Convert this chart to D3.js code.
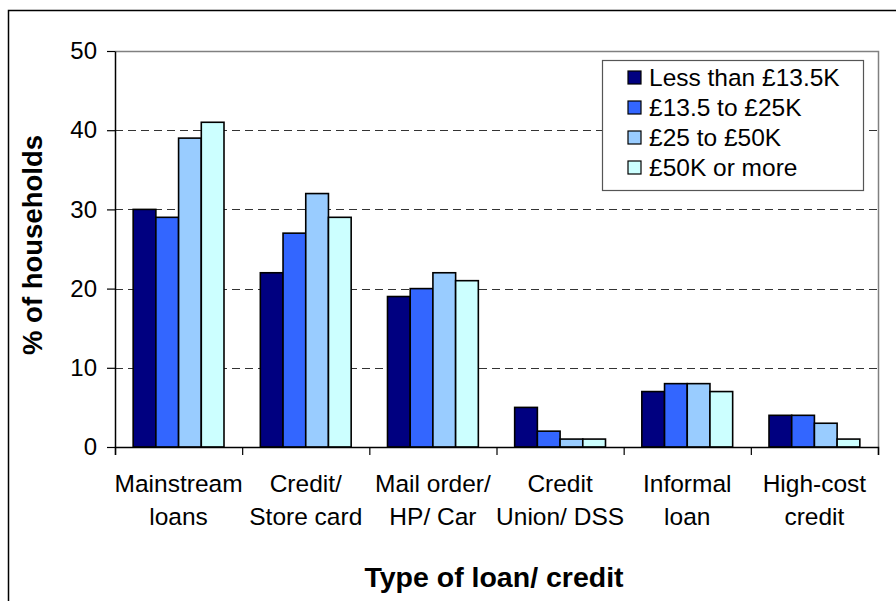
<!DOCTYPE html>
<html>
<head>
<meta charset="utf-8">
<script src="https://cdn.jsdelivr.net/npm/d3@7"></script>
<style>
  html, body { margin: 0; padding: 0; background: #fff; }
  svg { display: block; font-family: "Liberation Sans", Arial, sans-serif; }
</style>
</head>
<body>
<svg id="chart" width="896" height="601"></svg>
<script>
// Loan/credit types (two-line labels) and household income bands
const categories = [
  ["Mainstream", "loans"],
  ["Credit/", "Store card"],
  ["Mail order/", "HP/ Car"],
  ["Credit", "Union/ DSS"],
  ["Informal", "loan"],
  ["High-cost", "credit"]
];
const seriesNames = ["Less than £13.5K", "£13.5 to £25K", "£25 to £50K", "£50K or more"];
const seriesColors = ["#000080", "#3366FF", "#99CCFF", "#CCFFFF"];

// % of households per income band, one value per category
const lessThan13_5K = [30, 22, 19, 5, 7, 4];
const from13_5To25K = [29, 27, 20, 2, 8, 4];
const from25To50K   = [39, 32, 22, 1, 8, 3];
const over50K       = [41, 29, 21, 1, 7, 1];
const seriesValues = [lessThan13_5K, from13_5To25K, from25To50K, over50K];

const yTicks = [0, 10, 20, 30, 40, 50];

const svg = d3.select("#chart");
const plot = { left: 115, right: 878, top: 51, bottom: 447 };

// Outer chart frame (open at the bottom and right edge of the page)
svg.append("path")
  .attr("d", "M8.5,620 L8.5,10.5 L900,10.5")
  .attr("fill", "none").attr("stroke", "#000").attr("stroke-width", 1.5);

const catIdx = categories.map((d, i) => i);
const x0 = d3.scaleBand().domain(catIdx).range([plot.left, plot.right]).paddingInner(0).paddingOuter(0);
const x1 = d3.scaleBand().domain(d3.range(seriesNames.length))
  .range([0, x0.bandwidth()]).paddingOuter(0.8).paddingInner(0);
const y = d3.scaleLinear().domain([0, 50]).range([plot.bottom, plot.top]);

// Gridlines
svg.append("g").selectAll("line")
  .data(yTicks.filter(t => t > 0 && t < 50))
  .join("line")
  .attr("x1", plot.left).attr("x2", plot.right)
  .attr("y1", d => Math.round(y(d)) + 0.5).attr("y2", d => Math.round(y(d)) + 0.5)
  .attr("stroke", "#333").attr("stroke-width", 1)
  .attr("stroke-dasharray", "8,5");

// Plot area frame (top and right)
svg.append("path")
  .attr("d", `M${plot.left},${plot.top + 0.5} L${plot.right + 0.5},${plot.top + 0.5} L${plot.right + 0.5},${plot.bottom}`)
  .attr("fill", "none").attr("stroke", "#808080").attr("stroke-width", 1.5);

// Bars
const groups = svg.append("g").selectAll("g")
  .data(catIdx)
  .join("g")
  .attr("transform", i => `translate(${x0(i)},0)`);

groups.selectAll("rect")
  .data(i => seriesValues.map((vals, s) => ({ s, v: vals[i] })))
  .join("rect")
  .attr("x", d => x1(d.s))
  .attr("width", x1.bandwidth())
  .attr("y", d => y(d.v))
  .attr("height", d => y(0) - y(d.v))
  .attr("fill", d => seriesColors[d.s])
  .attr("stroke", "#000").attr("stroke-width", 1.6);

// Y axis
const yAxis = svg.append("g")
  .attr("transform", `translate(${plot.left},0)`)
  .call(d3.axisLeft(y).tickValues(yTicks).tickSize(8).tickPadding(10).tickSizeOuter(0));
yAxis.select(".domain").attr("stroke", "#000").attr("stroke-width", 1.5);
yAxis.selectAll(".tick line").attr("stroke", "#000").attr("stroke-width", 1.2);
yAxis.selectAll(".tick text")
  .attr("font-size", 24).attr("fill", "#000")
  .attr("font-family", "Liberation Sans, Arial, sans-serif");

// X axis: category boundary ticks
const xAxisScale = d3.scaleLinear().domain([0, categories.length]).range([plot.left, plot.right]);
const xAxis = svg.append("g")
  .attr("transform", `translate(0,${plot.bottom})`)
  .call(d3.axisBottom(xAxisScale).tickValues(d3.range(categories.length + 1)).tickSize(8).tickFormat(""));
xAxis.select(".domain").attr("stroke", "#000").attr("stroke-width", 1.5);
xAxis.selectAll(".tick line").attr("stroke", "#000").attr("stroke-width", 1.2);

// Category labels
const catLabels = svg.append("g").selectAll("text")
  .data(categories)
  .join("text")
  .attr("x", (d, i) => x0(i) + x0.bandwidth() / 2)
  .attr("y", 492)
  .attr("text-anchor", "middle")
  .attr("font-size", 24.5)
  .attr("fill", "#000");
catLabels.selectAll("tspan")
  .data(d => d)
  .join("tspan")
  .attr("x", function () { return d3.select(this.parentNode).attr("x"); })
  .attr("dy", (d, j) => j === 0 ? 0 : 33)
  .text(d => d);

// Axis titles
svg.append("text")
  .attr("x", 494).attr("y", 587)
  .attr("text-anchor", "middle")
  .attr("font-size", 28.5).attr("font-weight", "bold")
  .text("Type of loan/ credit");

svg.append("text")
  .attr("transform", "translate(42,245) rotate(-90)")
  .attr("text-anchor", "middle")
  .attr("font-size", 27.5).attr("font-weight", "bold")
  .text("% of households");

// Legend
const legend = svg.append("g");
legend.append("rect")
  .attr("x", 602.5).attr("y", 60.5).attr("width", 261).attr("height", 130)
  .attr("fill", "#fff").attr("stroke", "#555").attr("stroke-width", 1.2);
const items = legend.selectAll("g.item")
  .data(seriesNames)
  .join("g").attr("class", "item")
  .attr("transform", (d, i) => `translate(0,${86 + i * 30})`);
items.append("rect")
  .attr("x", 628).attr("y", -15).attr("width", 13).attr("height", 13)
  .attr("fill", (d, i) => seriesColors[i])
  .attr("stroke", "#000").attr("stroke-width", 1.2);
items.append("text")
  .attr("x", 649).attr("y", 0)
  .attr("font-size", 24.5).attr("fill", "#000")
  .text(d => d);
</script>
</body>
</html>
